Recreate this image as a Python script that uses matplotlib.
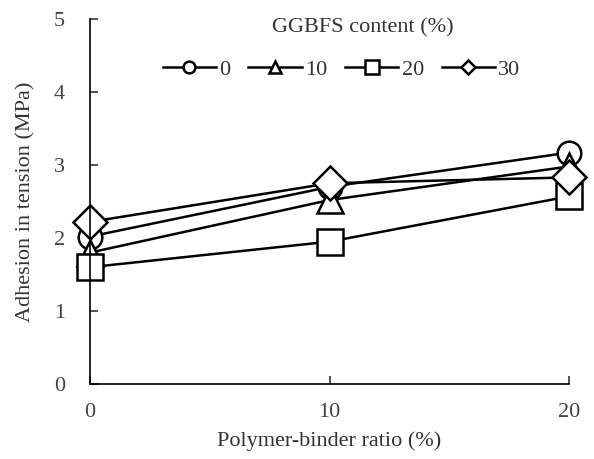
import matplotlib.pyplot as plt
from matplotlib.lines import Line2D

plt.rcParams['font.family'] = ['Liberation Serif', 'DejaVu Serif']

# Polymer-binder ratio (%) and adhesion in tension (MPa) per GGBFS content
ratio = [0, 10, 20]
ggbfs = ['0', '10', '20', '30']
adh_0 = [2.02, 2.70, 3.17]
adh_10 = [1.80, 2.52, 2.98]
adh_20 = [1.60, 1.95, 2.57]
adh_30 = [2.22, 2.75, 2.83]

series = [adh_0, adh_10, adh_20, adh_30]
markers = ['o', '^', 's', 'D']
big = [17, 18.5, 18.5, 17.5]
small = [8.5, 8, 10.5, 7]

fig = plt.figure(figsize=(5.94, 4.59), dpi=100)
ax = fig.add_axes([0.1515, 0.1634, 0.8065, 0.7952])

for vals, m, ms in zip(series, markers, big):
    ax.plot(ratio, vals, color='black', lw=1.8, marker=m, ms=ms,
            mfc='white', mec='black', mew=1.8, clip_on=False)

ax.set_xlim(0, 20)
ax.set_ylim(0, 5)
ax.set_xticks([0, 10, 20])
ax.set_yticks([0, 1, 2, 3, 4, 5])
ax.spines['top'].set_visible(False)
ax.spines['right'].set_visible(False)
for s in ['left', 'bottom']:
    ax.spines[s].set_linewidth(1.2)
ax.tick_params(direction='in', length=6, width=1.2, labelsize=16,
               colors='#333333', labelcolor='#444444')
ax.tick_params(axis='y', pad=18)
ax.tick_params(axis='x', pad=14)
ax.set_xlabel('Polymer-binder ratio (%)', fontsize=16, color='#333333', labelpad=6)
ax.set_ylabel('Adhesion in tension (MPa)', fontsize=16, color='#333333', labelpad=13)

handles = [Line2D([], [], color='black', lw=1.8, marker=m, ms=ms,
                  mfc='white', mec='black', mew=1.8)
           for m, ms in zip(markers, small)]
fig.text(0.61, 0.94, 'GGBFS content (%)', fontsize=16, color='#333333',
         ha='center', va='center')
fig.legend(handles, ggbfs, loc='center', bbox_to_anchor=(0.575, 0.849),
           ncol=4, frameon=False, fontsize=16, handlelength=2.4,
           handletextpad=0.15, columnspacing=0.8, labelcolor='#333333')

fig.savefig('out.png', dpi=100)
